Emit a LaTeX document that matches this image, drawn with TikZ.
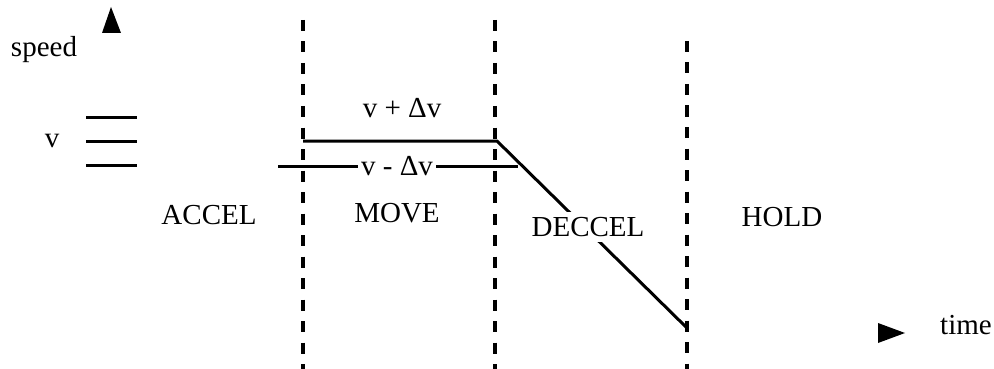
\documentclass[tikz,border=0pt]{standalone}
\usepackage{fontspec}
\setmainfont{Liberation Serif}
\begin{document}
\begin{tikzpicture}[x=1pt,y=-1pt,
  lbl/.style={inner sep=0pt,font=\fontsize{29}{34}\selectfont},
  solid line/.style={line width=3pt},
  phase/.style={line width=4.2pt,dash pattern=on 11pt off 10.5pt},
  tri/.style={fill=black}]
\useasboundingbox (0,0) rectangle (994,369);
% axes arrows
\fill[tri] (111,7) -- (121,33) -- (102,33) -- cycle;
\fill[tri] (878,323) -- (905,333) -- (878,343) -- cycle;
% labels
\node[lbl] (speed) at (44,50) {speed};
\node[lbl] (time) at (966,325) {time};
\node[lbl] (v) at (52,141) {v};
% tick lines
\coordinate (t1a) at (86,117); \coordinate (t1b) at (137,117);
\coordinate (t2a) at (86,141); \coordinate (t2b) at (137,141);
\coordinate (t3a) at (86,165); \coordinate (t3b) at (137,165);
\draw[solid line] (t1a) -- (t1b);
\draw[solid line] (t2a) -- (t2b);
\draw[solid line] (t3a) -- (t3b);
% speed curve
\coordinate (lowL) at (278,166); \coordinate (lowR) at (518,166);
\coordinate (hiL) at (303,141); \coordinate (hiR) at (497,141);
\coordinate (end) at (687,328);
\draw[solid line] (lowL) -- (lowR);
\draw[solid line] (hiL) -- (hiR) -- (end);
% phase separators
\coordinate (s1t) at (303,20); \coordinate (s1b) at (303,369);
\coordinate (s2t) at (495,20); \coordinate (s2b) at (495,369);
\coordinate (s3t) at (687,41); \coordinate (s3b) at (687,369);
\draw[phase] (s1t) -- (s1b);
\draw[phase] (s2t) -- (s2b);
\draw[phase] (s3t) -- (s3b);
% band labels
\node[lbl] (vplus) at (402,108) {v + Δv};
\node[lbl,fill=white,inner xsep=3pt,inner ysep=1pt] (vminus) at (397,166) {v - Δv};
% phase names
\node[lbl] (accel) at (209,215) {ACCEL};
\node[lbl] (move) at (397,213) {MOVE};
\node[lbl,fill=white,inner xsep=2pt,inner ysep=5pt] (deccel) at (588,227) {DECCEL};
\node[lbl] (hold) at (782,217) {HOLD};
\end{tikzpicture}
\end{document}
